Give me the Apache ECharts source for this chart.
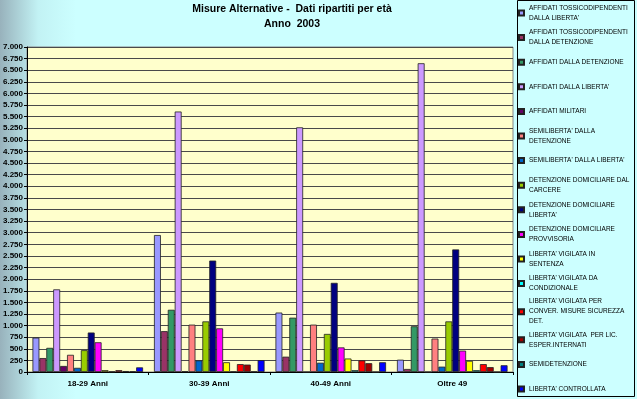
<!DOCTYPE html>
<html>
<head>
<meta charset="utf-8">
<script src="https://cdn.jsdelivr.net/npm/echarts@6/dist/echarts.min.js"></script>
<style>
  html, body { margin: 0; padding: 0; }
  #chart { width: 637px; height: 399px; }
</style>
</head>
<body>
<div id="chart"></div>
<script>
const categories = ['18-29 Anni', '30-39 Anni', '40-49 Anni', 'Oltre 49'];

// nomi delle misure, a capo come nella legenda originale
const seriesNames = [
  "AFFIDATI TOSSICODIPENDENTI\nDALLA LIBERTA'",
  'AFFIDATI TOSSICODIPENDENTI\nDALLA DETENZIONE',
  'AFFIDATI DALLA DETENZIONE',
  "AFFIDATI DALLA LIBERTA'",
  'AFFIDATI MILITARI',
  "SEMILIBERTA' DALLA\nDETENZIONE",
  "SEMILIBERTA' DALLA LIBERTA'",
  'DETENZIONE DOMICILIARE DAL\nCARCERE',
  "DETENZIONE DOMICILIARE\nLIBERTA'",
  'DETENZIONE DOMICILIARE\nPROVVISORIA',
  "LIBERTA' VIGILATA IN\nSENTENZA",
  "LIBERTA' VIGILATA DA\nCONDIZIONALE",
  "LIBERTA' VIGILATA PER\nCONVER. MISURE SICUREZZA\nDET.",
  "LIBERTA' VIGILATA  PER LIC.\nESPER.INTERNATI",
  'SEMIDETENZIONE',
  "LIBERTA' CONTROLLATA"
];

// valori per fascia d'età
const affidatiTossicoLiberta    = [740, 2950, 1280, 265];
const affidatiTossicoDetenzione = [300, 880, 330, 65];
const affidatiDetenzione        = [520, 1340, 1170, 985];
const affidatiLiberta           = [1780, 5610, 5270, 6650];
const affidatiMilitari          = [130, 15, 0, 0];
const semilibertaDetenzione     = [370, 1020, 1020, 720];
const semilibertaLiberta        = [90, 250, 200, 115];
const detDomCarcere             = [470, 1090, 820, 1090];
const detDomLiberta             = [850, 2400, 1920, 2640];
const detDomProvvisoria         = [640, 940, 530, 460];
const libVigSentenza            = [40, 210, 290, 240];
const libVigCondizionale        = [10, 10, 40, 40];
const libVigConver              = [40, 170, 250, 170];
const libVigEsper               = [20, 160, 190, 105];
const semidetenzione            = [15, 10, 0, 0];
const libertaControllata        = [100, 255, 210, 145];

const seriesValues = [
  affidatiTossicoLiberta, affidatiTossicoDetenzione, affidatiDetenzione, affidatiLiberta,
  affidatiMilitari, semilibertaDetenzione, semilibertaLiberta, detDomCarcere,
  detDomLiberta, detDomProvvisoria, libVigSentenza, libVigCondizionale,
  libVigConver, libVigEsper, semidetenzione, libertaControllata
];

const colors = [
  '#9999FF', '#993366', '#339966', '#CC99FF', '#660066', '#FF8080', '#0066CC', '#99CC00',
  '#000080', '#FF00FF', '#FFFF00', '#00FFFF', '#FF0000', '#A00000', '#008080', '#0000FF'
];

const FONT = 'Arial, "Liberation Sans", sans-serif';

function fmtThousands(v) {
  return String(v).replace(/\B(?=(\d{3})+(?!\d))/g, '.');
}

const chart = echarts.init(document.getElementById('chart'));

const option = {
  animation: false,
  backgroundColor: {
    type: 'linear', x: 0, y: 0, x2: 1, y2: 0,
    colorStops: [
      { offset: 0, color: '#98B2BC' },
      { offset: 0.06, color: '#C2F2F4' },
      { offset: 0.12, color: '#CCFFFF' },
      { offset: 1, color: '#CCFFFF' }
    ]
  },
  color: colors,
  title: {
    text: 'Misure Alternative -  Dati ripartiti per età\nAnno  2003',
    left: 292,
    top: 2,
    padding: 0,
    textAlign: 'center',
    textStyle: { fontFamily: FONT, fontSize: 10.5, fontWeight: 'bold', color: '#000', lineHeight: 15 }
  },
  graphic: [{
    type: 'rect',
    shape: { x: 517.5, y: 0.5, width: 117, height: 396 },
    style: { fill: '#CCFFFF', stroke: '#000', lineWidth: 1 },
    z: -1
  }],
  legend: {
    orient: 'vertical',
    left: 515,
    top: 3,
    height: 420,
    padding: [0, 0, 0, 3],
    itemWidth: 5,
    itemHeight: 5,
    itemGap: 4.6,
    icon: 'rect',
    textStyle: {
      fontFamily: FONT, fontSize: 6.5, color: '#000',
      height: 20, lineHeight: 10
    }
  },
  grid: {
    left: 27, right: 124, top: 47, bottom: 27,
    show: true, backgroundColor: '#FFFFCC', borderColor: '#888', borderWidth: 1
  },
  xAxis: {
    type: 'category',
    data: categories,
    axisLine: { lineStyle: { color: '#000', width: 1 } },
    axisTick: { show: true, length: 3, lineStyle: { color: '#000' } },
    axisLabel: { fontFamily: FONT, fontSize: 8, fontWeight: 'bold', color: '#000', margin: 8 }
  },
  yAxis: {
    type: 'value',
    min: 0, max: 7000, interval: 250,
    axisLine: { show: true, lineStyle: { color: '#000', width: 1 } },
    axisTick: { show: true, length: 3, lineStyle: { color: '#000' } },
    axisLabel: {
      fontFamily: FONT, fontSize: 8, fontWeight: 'bold', color: '#000', margin: 4,
      formatter: fmtThousands
    },
    splitLine: { lineStyle: { color: '#4a4a4a', width: 1 } }
  },
  series: seriesNames.map((name, i) => ({
    name: name,
    type: 'bar',
    data: seriesValues[i],
    barGap: '0%',
    barCategoryGap: '9%',
    itemStyle: { color: colors[i], borderColor: '#222', borderWidth: 0.8 }
  }))
};

chart.setOption(option);
</script>
</body>
</html>
